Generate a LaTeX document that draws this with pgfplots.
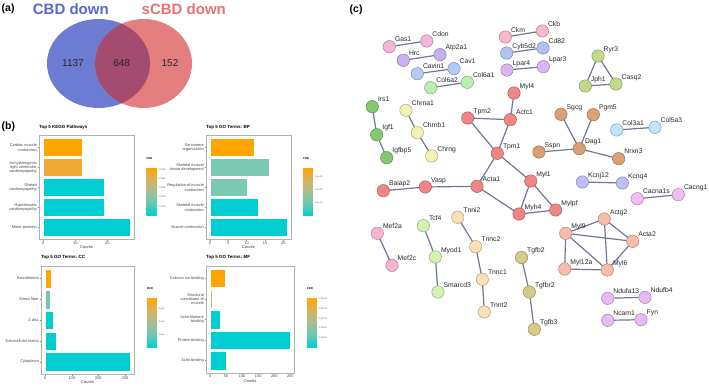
\documentclass[border=0pt]{standalone}
\usepackage{fontspec}
\setmainfont{Liberation Sans}
\usepackage{pgfplots}
\usepackage{pgfplotstable}
\pgfplotsset{compat=1.18}

\definecolor{vblue}{RGB}{108,124,211}
\definecolor{vred}{RGB}{228,127,127}
\definecolor{vmid}{RGB}{163,76,112}
\definecolor{tblue}{RGB}{88,104,206}
\definecolor{tred}{RGB}{230,115,115}
\definecolor{cOr}{RGB}{255,165,0}
\definecolor{cOr2}{RGB}{240,170,52}
\definecolor{cCy}{RGB}{0,206,209}
\definecolor{cTe}{RGB}{122,201,178}
\definecolor{cTe2}{RGB}{110,198,180}
\definecolor{cOl}{RGB}{168,196,140}
\definecolor{edgec}{RGB}{112,118,150}
\definecolor{nPA}{HTML}{F3B6DA}
\definecolor{nLav}{HTML}{C6B2EF}
\definecolor{nLB}{HTML}{B5CBF5}
\definecolor{nLG}{HTML}{B9F0B2}
\definecolor{nPB}{HTML}{F5B9C9}
\definecolor{nPer}{HTML}{B3C1F2}
\definecolor{nLil}{HTML}{D9B5F2}
\definecolor{nYG}{HTML}{C3D98A}
\definecolor{nGr}{HTML}{84C972}
\definecolor{nPY}{HTML}{F2F2B3}
\definecolor{nRd}{HTML}{F08585}
\definecolor{nTan}{HTML}{D9A276}
\definecolor{nSky}{HTML}{C0E4FA}
\definecolor{nPerb}{HTML}{BFBDF7}
\definecolor{nVio}{HTML}{F2BDF0}
\definecolor{nPC}{HTML}{F5B5D2}
\definecolor{nLime}{HTML}{D5F2B3}
\definecolor{nPch}{HTML}{FAE0B3}
\definecolor{nOlv}{HTML}{D4CC88}
\definecolor{nSal}{HTML}{F8BCAA}
\definecolor{nLilb}{HTML}{E8BAF2}

\pgfplotstableread{
x y g name
389.3 -46.7 pa Gas1
426.7 -41 pa Cdon
403.3 -60.3 lav Hrc
440 -54.7 lav Atp2a1
417.3 -73.7 lb Cavin1
454 -68.7 lb Cav1
430.7 -87.7 lg Col6a2
467.3 -82.3 lg Col6a1
505.3 -37 pb Ckm
542.3 -31 pb Ckb
506.7 -53 per Cyb5d2
543 -48 per Cd82
507 -70 lil Lpar4
543.3 -66.7 lil Lpar3
598 -56 yg Ryr3
585.3 -86 yg Jph1
616 -84 yg Casq2
372.3 -106.7 gr Irs1
376.7 -134.7 gr Igf1
386.7 -157.7 gr Igfbp5
406 -110.3 py Chrna1
417.3 -132.7 py Chrnb1
431.7 -156 py Chrng
514 -93 rd Myl4
467.7 -118 rd Tpm2
510.3 -119.7 rd Actc1
497.3 -153.3 rd Tpm1
477 -186.3 rd Acta1
425.3 -187 rd Vasp
383.3 -190.7 rd Baiap2
530.7 -181 rd Myl1
519 -214 rd Myh4
555.7 -210 rd Mylpf
561 -114.3 tan Sgcg
593.3 -114.7 tan Pgm5
539 -152 tan Sspn
579.3 -148.7 tan Dag1
618.7 -158.7 tan Nrxn3
616.7 -130 sky Col3a1
655 -127.3 sky Col5a3
582.3 -182 perb Kcnj12
622.3 -183 perb Kcnq4
637.3 -198.7 vio Cacna1s
678.3 -194.7 vio Cacng1
377.3 -233.3 pc Mef2a
392 -265.3 pc Mef2c
423.3 -225.7 lime Tcf4
435.3 -257 lime Myod1
438 -292 lime Smarcd3
457.7 -217.3 pch Tnni2
475.7 -246.7 pch Tnnc2
482.3 -279.3 pch Tnnc1
484.3 -312 pch Tnnt2
521.5 -257.5 olv Tgfb2
529.3 -292 olv Tgfbr2
534.3 -329.3 olv Tgfb3
604.3 -219 sal Actg2
565.7 -233.3 sal Myl9
632.7 -241.3 sal Acta2
564.7 -269 sal Myl12a
607.3 -270 sal Myl6
607.7 -298.3 lilb Ndufa13
645 -297.3 lilb Ndufb4
607.7 -320.3 lilb Ncam1
641 -319.7 lilb Fyn
}\nodetab

\pgfplotstableread{
x y
389.3 -46.7
426.7 -41
nan nan
403.3 -60.3
440 -54.7
nan nan
417.3 -73.7
454 -68.7
nan nan
430.7 -87.7
467.3 -82.3
nan nan
505.3 -37
542.3 -31
nan nan
506.7 -53
543 -48
nan nan
507 -70
543.3 -66.7
nan nan
598 -56
585.3 -86
616 -84
598 -56
nan nan
372.3 -106.7
376.7 -134.7
386.7 -157.7
nan nan
406 -110.3
417.3 -132.7
431.7 -156
nan nan
514 -93
510.3 -119.7
nan nan
467.7 -118
510.3 -119.7
497.3 -153.3
467.7 -118
nan nan
497.3 -153.3
477 -186.3
nan nan
497.3 -153.3
530.7 -181
nan nan
383.3 -190.7
425.3 -187
477 -186.3
519 -214
555.7 -210
530.7 -181
519 -214
nan nan
561 -114.3
579.3 -148.7
593.3 -114.7
nan nan
539 -152
579.3 -148.7
618.7 -158.7
nan nan
616.7 -130
655 -127.3
nan nan
582.3 -182
622.3 -183
nan nan
637.3 -198.7
678.3 -194.7
nan nan
377.3 -233.3
392 -265.3
nan nan
423.3 -225.7
435.3 -257
438 -292
nan nan
457.7 -217.3
475.7 -246.7
482.3 -279.3
484.3 -312
nan nan
521.5 -257.5
529.3 -292
534.3 -329.3
nan nan
565.7 -233.3
604.3 -219
632.7 -241.3
565.7 -233.3
564.7 -269
607.3 -270
565.7 -233.3
nan nan
604.3 -219
607.3 -270
632.7 -241.3
nan nan
607.7 -298.3
645 -297.3
nan nan
607.7 -320.3
641 -319.7
}\edgetab

\pgfplotsset{
  /pgf/number format/assume math mode=true,
  colormap={fdr}{rgb255(0pt)=(0,206,209); rgb255(1pt)=(108,200,180); rgb255(2pt)=(168,190,142); rgb255(3pt)=(218,178,92); rgb255(4pt)=(255,165,0)},
  b/.style={xbar, bar shift=0pt, bar width=0.9, draw=white, line width=0.3pt, fill=#1},
  barax/.style={
    scale only axis, anchor=north west, y dir=reverse, ymin=0.4, ymax=5.6,
    ytick={1,2,3,4,5}, xtick pos=lower, ytick pos=left,
    axis line style={draw=black!30, line width=0.8pt},
    tick style={draw=black!45, line width=0.35pt},
    major tick length=1.4pt, tick align=outside,
    yticklabel style={align=right, font=\fontsize{3.9}{4.3}\selectfont, text=black!72, inner sep=0.6pt},
    xticklabel style={font=\fontsize{3.9}{4.3}\selectfont, text=black!72, inner sep=0.6pt},
    xlabel={Counts},
    xlabel style={at={(axis description cs:0.5,0)}, anchor=north, yshift=-6.2pt, font=\fontsize{4}{4.4}\selectfont, text=black!80, inner sep=0pt},
    title style={at={(axis description cs:0,1)}, anchor=base west, yshift=1.3pt, font=\bfseries\fontsize{4.5}{5}\selectfont, inner sep=0pt},
    colorbar, colormap name=fdr,
    colorbar style={at={(parent axis.north east)}, anchor=north west, width=10pt, scale only axis,
      y dir=normal, xtick=\empty, xlabel={}, ylabel={}, title={FDR},
      yticklabel pos=right, ytick pos=right, ytick style={draw=none}, major tick length=0pt,
      axis line style={draw=none},
      yticklabel style={font=\fontsize{2.2}{2.5}\selectfont, text=black!65, inner sep=0.5pt, xshift=1.5pt, align=left},
      title style={at={(axis description cs:0,1)}, anchor=base west, yshift=1.6pt, font=\bfseries\fontsize{2.8}{3}\selectfont, inner sep=0pt}},
  },
}

\begin{document}
\begin{tikzpicture}
% ---------- canvas: Venn diagram and network ----------
\begin{axis}[at={(0pt,0pt)}, anchor=north west, scale only axis, width=709pt, height=386pt,
  xmin=0, xmax=709, ymin=-386, ymax=0, hide axis, clip=false]
\fill[vblue] (axis cs:98.5,-63.5) ellipse [x radius=51.5pt, y radius=44.5pt];
\fill[vred] (axis cs:143.5,-63.5) ellipse [x radius=48.5pt, y radius=44.5pt];
\begin{scope}
\clip (axis cs:98.5,-63.5) ellipse [x radius=51.5pt, y radius=44.5pt];
\fill[vmid] (axis cs:143.5,-63.5) ellipse [x radius=48.5pt, y radius=44.5pt];
\end{scope}
\node[font=\fontsize{10}{11}\selectfont, text=black!85] at (axis cs:73,-62.7) {1137};
\node[font=\fontsize{10}{11}\selectfont, text=black!85] at (axis cs:121.7,-62.7) {648};
\node[font=\fontsize{10}{11}\selectfont, text=black!85] at (axis cs:170,-62.7) {152};
\node[anchor=base, font=\bfseries\fontsize{15}{16}\selectfont, text=tblue, inner sep=0pt] at (axis cs:70.8,-14.5) {CBD down};
\node[anchor=base, font=\bfseries\fontsize{15}{16}\selectfont, text=tred, inner sep=0pt] at (axis cs:183.8,-14.5) {sCBD down};
\node[anchor=base west, font=\bfseries\fontsize{10.5}{11}\selectfont, inner sep=0pt] at (axis cs:1.5,-11) {(a)};
\node[anchor=base west, font=\bfseries\fontsize{10.5}{11}\selectfont, inner sep=0pt] at (axis cs:1.5,-129) {(b)};
\node[anchor=base west, font=\bfseries\fontsize{10.5}{11}\selectfont, inner sep=0pt] at (axis cs:349.5,-12) {(c)};
% network edges
\addplot[draw=edgec, line width=1.2pt, mark=none, unbounded coords=jump] table[x=x,y=y] {\edgetab};
% network nodes
\addplot[scatter, only marks, mark=*, mark size=6.2pt, mark options={line width=0.5pt},
  point meta=explicit symbolic,
  scatter/classes={
    pa={mark=*, fill=nPA, draw=nPA!70!black},
    lav={mark=*, fill=nLav, draw=nLav!70!black},
    lb={mark=*, fill=nLB, draw=nLB!70!black},
    lg={mark=*, fill=nLG, draw=nLG!70!black},
    pb={mark=*, fill=nPB, draw=nPB!70!black},
    per={mark=*, fill=nPer, draw=nPer!70!black},
    lil={mark=*, fill=nLil, draw=nLil!70!black},
    yg={mark=*, fill=nYG, draw=nYG!70!black},
    gr={mark=*, fill=nGr, draw=nGr!70!black},
    py={mark=*, fill=nPY, draw=nPY!70!black},
    rd={mark=*, fill=nRd, draw=nRd!70!black},
    tan={mark=*, fill=nTan, draw=nTan!70!black},
    sky={mark=*, fill=nSky, draw=nSky!70!black},
    perb={mark=*, fill=nPerb, draw=nPerb!70!black},
    vio={mark=*, fill=nVio, draw=nVio!70!black},
    pc={mark=*, fill=nPC, draw=nPC!70!black},
    lime={mark=*, fill=nLime, draw=nLime!70!black},
    pch={mark=*, fill=nPch, draw=nPch!70!black},
    olv={mark=*, fill=nOlv, draw=nOlv!70!black},
    sal={mark=*, fill=nSal, draw=nSal!70!black},
    lilb={mark=*, fill=nLilb, draw=nLilb!70!black}}]
  table[x=x, y=y, meta=g] {\nodetab};
% node labels
\addplot[draw=none, mark=none, point meta=explicit symbolic, nodes near coords={\pgfplotspointmeta},
  every node near coord/.append style={anchor=base west, xshift=5.5pt, yshift=4.8pt, font=\fontsize{6.8}{7}\selectfont, text=black!85, inner sep=0pt}]
  table[x=x, y=y, meta=name] {\nodetab};
\end{axis}

% ---------- KEGG ----------
\begin{axis}[barax, at={(39pt,-135.5pt)}, width=95pt, height=104pt,
  xmin=-1.35, xmax=28.35, xtick={0,10,20},
  yticklabels={{Cardiac muscle\\contraction},{Arrhythmogenic\\right ventricular\\cardiomyopathy},{Dilated\\cardiomyopathy},{Hypertrophic\\cardiomyopathy},{Motor proteins}},
  title={Top 5 KEGG Pathways},
  point meta min=0.3, point meta max=26.5,
  colorbar style={xshift=4pt, yshift=-31.5pt, height=48pt, ytick={5,10,15,20,25}, yticklabels={0.0005,0.0010,0.0015,0.0020,0.0025}}]
\addplot[b=cOr] coordinates {(12,1)};
\addplot[b=cOr2] coordinates {(12,2)};
\addplot[b=cCy] coordinates {(19,3)};
\addplot[b=cCy] coordinates {(19,4)};
\addplot[b=cCy] coordinates {(27,5)};
\end{axis}

% ---------- BP ----------
\begin{axis}[barax, at={(206pt,-135.5pt)}, width=85pt, height=104pt,
  xmin=-1.05, xmax=22.05, xtick={0,5,10,15,20},
  yticklabels={{Sarcomere\\organization},{Skeletal muscle\\tissue development},{Regulation of muscle\\contraction},{Skeletal muscle\\contraction},{Muscle contraction}},
  title={Top 5 GO Terms: BP},
  point meta min=0, point meta max=18.4,
  colorbar style={xshift=3.3pt, yshift=-31.8pt, height=48.4pt, ytick={5,10,15}, yticklabels={5.0e-06,1.0e-05,1.5e-05}}]
\addplot[b=cOr] coordinates {(12,1)};
\addplot[b=cTe] coordinates {(16,2)};
\addplot[b=cTe] coordinates {(10,3)};
\addplot[b=cCy] coordinates {(13,4)};
\addplot[b=cCy] coordinates {(21,5)};
\end{axis}

% ---------- CC ----------
\begin{axis}[barax, at={(41pt,-266pt)}, width=93pt, height=108.5pt,
  xmin=-15.9, xmax=333.9, xtick={0,100,200,300},
  yticklabels={{Sarcolemma},{Stress fiber},{Z disc},{Extracellular matrix},{Cytoplasm}},
  title={Top 5 GO Terms: CC},
  point meta min=0, point meta max=7.8,
  colorbar style={xshift=4.3pt, yshift=-31.3pt, height=50.4pt, ytick={2,4,6}, yticklabels={2e-05,4e-05,6e-05}}]
\addplot[b=cOr] coordinates {(24,1)};
\addplot[b=cTe2] coordinates {(20,2)};
\addplot[b=cCy] coordinates {(29,3)};
\addplot[b=cCy] coordinates {(40,4)};
\addplot[b=cCy] coordinates {(318,5)};
\end{axis}

% ---------- MF ----------
\begin{axis}[barax, at={(206pt,-266pt)}, width=88pt, height=107pt,
  xmin=-12.45, xmax=261.45, xtick={0,50,100,150,200,250},
  yticklabels={{Calcium ion binding},{Structural\\constituent of\\muscle},{Actin filament\\binding},{Protein binding},{Actin binding}},
  title={Top 5 GO Terms: MF},
  point meta min=0, point meta max=129.4,
  colorbar style={xshift=4.3pt, yshift=-31.3pt, height=50pt, ytick={25,50,75,100,125}, yticklabels={0.00025,0.00050,0.00075,0.00100,0.00125}}]
\addplot[b=cOr] coordinates {(47,1)};
\addplot[b=cOl] coordinates {(8,2)};
\addplot[b=cCy] coordinates {(33,3)};
\addplot[b=cCy] coordinates {(249,4)};
\addplot[b=cCy] coordinates {(50,5)};
\end{axis}

\pgfresetboundingbox
\path[use as bounding box] (0pt,0pt) rectangle (709pt,-386pt);
\end{tikzpicture}
\end{document}
